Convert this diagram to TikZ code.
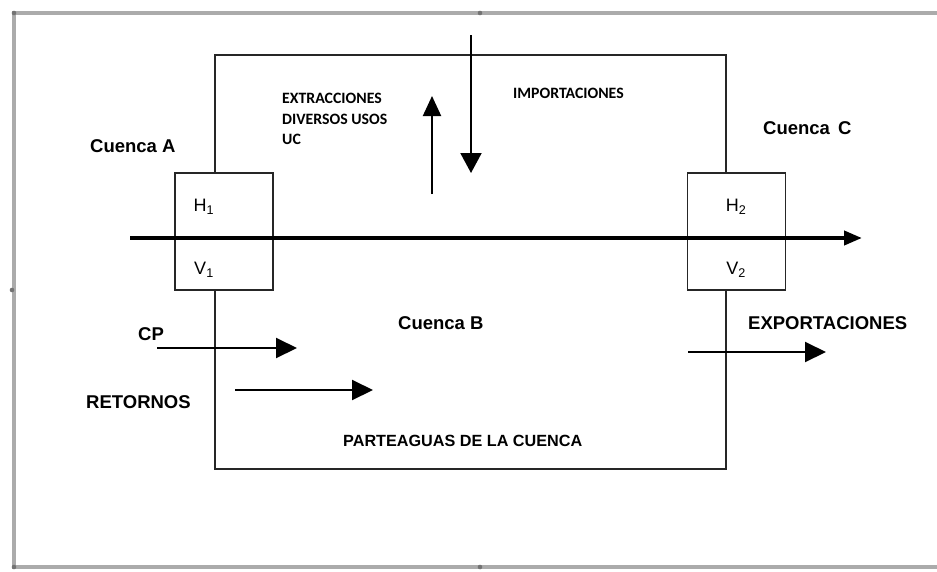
\documentclass[tikz,border=0pt]{standalone}
\usepackage{fontspec}
\setmainfont{Liberation Sans}
\newfontfamily\smallfont{Carlito}
\usetikzlibrary{arrows.meta}
\begin{document}
\begin{tikzpicture}[x=1pt,y=-1pt,
  frame/.style={draw=gray!90!black!60,line width=3.2pt},
  wall/.style={draw=black!85,line width=1.6pt},
  flow/.style={draw=black,line width=2pt,-{Triangle[length=21pt,width=20pt]}},
  mainflow/.style={draw=black,line width=4pt,-{Triangle[length=18pt,width=14pt]}},
  label/.style={font=\fontsize{18.5}{20}\selectfont\bfseries,inner sep=0pt},
  small/.style={font=\smallfont\fontsize{15.8}{20}\selectfont\bfseries,inner sep=0pt,anchor=west},
  sym/.style={font=\fontsize{18}{20}\selectfont,inner sep=0pt},
  station/.style={wall,minimum width=98pt,minimum height=117pt,inner sep=0pt}]
\useasboundingbox (0,0) rectangle (937,571);
% outer frame
\draw[frame] (937,13) -- (14,13) -- (14,567) -- (937,567);
\foreach \p/\q in {14/13,480/13,14/567,480/567,12/290}
  \fill[black!55] (\p,\q) circle (2.3pt);
% stations
\node[station] (box1) at (224,231.5) {};
\node[station] (box2) at (736.5,231.5) {};
% watershed boundary
\coordinate (tl) at (215,55);
\coordinate (tr) at (726,55);
\coordinate (bl) at (215,469);
\coordinate (br) at (726,469);
\draw[wall] (box1.north -| tl) -- (tl) -- (tr) -- (box2.north -| tr);
\draw[wall] (box1.south -| bl) -- (bl) -- (br) -- (box2.south -| br);
% main flow
\coordinate (in) at (130,238);
\coordinate (out) at (862,238);
\draw[mainflow] (in) -- (out);
% symbols
\node[sym] (h1) at (204,207) {H\textsubscript{1}};
\node[sym] (v1) at (204,270) {V\textsubscript{1}};
\node[sym] (h2) at (736,207) {H\textsubscript{2}};
\node[sym] (v2) at (736,270) {V\textsubscript{2}};
% labels
\node[label,anchor=west] (ca) at (90,146) {Cuenca A};
\node[label,anchor=west] (cc) at (763,128) {Cuenca\, C};
\node[label,anchor=west] (cb) at (398,323) {Cuenca B};
\node[label,anchor=west] (cp) at (138,334) {CP};
\node[label,anchor=west] (ret) at (86,402) {RETORNOS};
\node[label,anchor=west] (exp) at (748,323) {EXPORTACIONES};
\node[label,anchor=west,font=\fontsize{16.2}{20}\selectfont\bfseries] (parte) at (343,441) {PARTEAGUAS DE LA CUENCA};
\node[small] (ext1) at (282,98) {EXTRACCIONES};
\node[small] (ext2) at (282,119) {DIVERSOS USOS};
\node[small] (ext3) at (282,139) {UC};
\node[small] (imp) at (513,93) {IMPORTACIONES};
% flows
\coordinate (cps) at (157,348); \coordinate (cpe) at (297,348);
\draw[flow] (cps) -- (cpe);
\coordinate (rs) at (235,390); \coordinate (re) at (373,390);
\draw[flow] (rs) -- (re);
\coordinate (es) at (688,352); \coordinate (ee) at (826,352);
\draw[flow] (es) -- (ee);
\coordinate (us) at (432,194); \coordinate (ue) at (432,96);
\draw[flow,-{Triangle[length=20pt,width=18pt]}] (us) -- (ue);
\coordinate (ds) at (471,35); \coordinate (de) at (471,173);
\draw[flow,-{Triangle[length=20pt,width=21pt]}] (ds) -- (de);
\end{tikzpicture}
\end{document}
